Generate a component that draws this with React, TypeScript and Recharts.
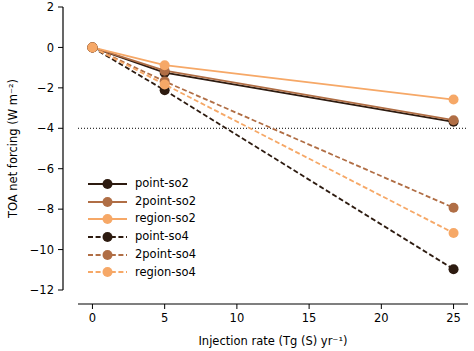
import React from "react";
import { LineChart, Line, XAxis, YAxis, ReferenceLine } from "recharts";

// injection rates (Tg(S)/yr) and forcing values (W m-2)
const injection = [0, 5, 25];
const pointSo2 = [0, -1.25, -3.68];
const twoPointSo2 = [0, -1.15, -3.6];
const regionSo2 = [0, -0.88, -2.58];
const pointSo4 = [0, -2.12, -10.97];
const twoPointSo4 = [0, -1.68, -7.93];
const regionSo4 = [0, -1.83, -9.18];

const xTicks = [0, 5, 10, 15, 20, 25];
const yTicks = [-12, -10, -8, -6, -4, -2, 0, 2];

const DARK = "#2d1b10";
const MID = "#b06e45";
const LIGHT = "#f6a867";

const SERIES = [
  { key: "point-so2", values: pointSo2, color: DARK, dashed: false },
  { key: "2point-so2", values: twoPointSo2, color: MID, dashed: false },
  { key: "region-so2", values: regionSo2, color: LIGHT, dashed: false },
  { key: "point-so4", values: pointSo4, color: DARK, dashed: true },
  { key: "2point-so4", values: twoPointSo4, color: MID, dashed: true },
  { key: "region-so4", values: regionSo4, color: LIGHT, dashed: true },
];

const data = injection.map((x, i) => {
  const row: Record<string, number> = { x };
  SERIES.forEach((s) => {
    row[s.key] = s.values[i];
  });
  return row;
});

const FONT = "'DejaVu Sans', sans-serif";
const fmt = (v: number) => (v < 0 ? `\u2212${Math.abs(v)}` : `${v}`);

function LegendBox() {
  return (
    <div
      style={{
        position: "absolute",
        left: 86,
        top: 175,
        fontFamily: FONT,
        fontSize: 11.5,
        color: "#000",
        lineHeight: 1,
      }}
    >
      {SERIES.map((s) => (
        <div
          key={s.key}
          style={{ display: "flex", alignItems: "center", height: 17.7 }}
        >
          <svg width={49} height={14} style={{ display: "block" }}>
            <line
              x1={2}
              x2={41}
              y1={7}
              y2={7}
              stroke={s.color}
              strokeWidth={1.8}
              strokeDasharray={s.dashed ? "5 2.6" : undefined}
            />
            <circle cx={21.5} cy={7} r={5} fill={s.color} />
          </svg>
          <span>{s.key}</span>
        </div>
      ))}
    </div>
  );
}

export default function App() {
  return (
    <div style={{ position: "absolute", left: 0, top: 0, background: "#fff" }}>
      <LineChart
        width={474}
        height={351}
        data={data}
        margin={{ top: 7, right: 6, left: 0, bottom: 0 }}
      >
        <XAxis
          dataKey="x"
          type="number"
          domain={[-1, 26]}
          ticks={xTicks}
          height={61}
          tickSize={5}
          tickMargin={19}
          axisLine={{ stroke: "#000", strokeWidth: 1.2, transform: "translate(0 14)" }}
          tickLine={{ stroke: "#000", strokeWidth: 1, transform: "translate(0 14)" }}
          tick={{ fill: "#000", fontSize: 11.5, fontFamily: FONT }}
          label={{
            value: "Injection rate (Tg (S) yr\u207B\u00B9)",
            position: "insideBottom",
            offset: 6,
            style: { fill: "#000", fontSize: 11.5, fontFamily: FONT },
          }}
        />
        <YAxis
          type="number"
          domain={[-12, 2]}
          ticks={yTicks}
          width={78}
          tickSize={5}
          tickMargin={19}
          tickFormatter={fmt}
          axisLine={{ stroke: "#000", strokeWidth: 1.2, transform: "translate(-15 0)" }}
          tickLine={{ stroke: "#000", strokeWidth: 1, transform: "translate(-15 0)" }}
          tick={{ fill: "#000", fontSize: 11.5, fontFamily: FONT }}
          label={{
            value: "TOA net forcing (W m\u207B\u00B2)",
            angle: -90,
            position: "insideLeft",
            offset: 13,
            style: { fill: "#000", fontSize: 11.5, fontFamily: FONT, textAnchor: "middle" },
          }}
        />
        <ReferenceLine y={-4} stroke="#000" strokeWidth={1} strokeDasharray="1 2" />
        {SERIES.map((s) => (
          <Line
            key={s.key}
            dataKey={s.key}
            type="linear"
            stroke={s.color}
            strokeWidth={1.8}
            strokeDasharray={s.dashed ? "5 2.6" : undefined}
            dot={{ r: 5, fill: s.color, stroke: s.color, strokeWidth: 0 }}
            activeDot={false}
            isAnimationActive={false}
          />
        ))}
      </LineChart>
      <LegendBox />
    </div>
  );
}
